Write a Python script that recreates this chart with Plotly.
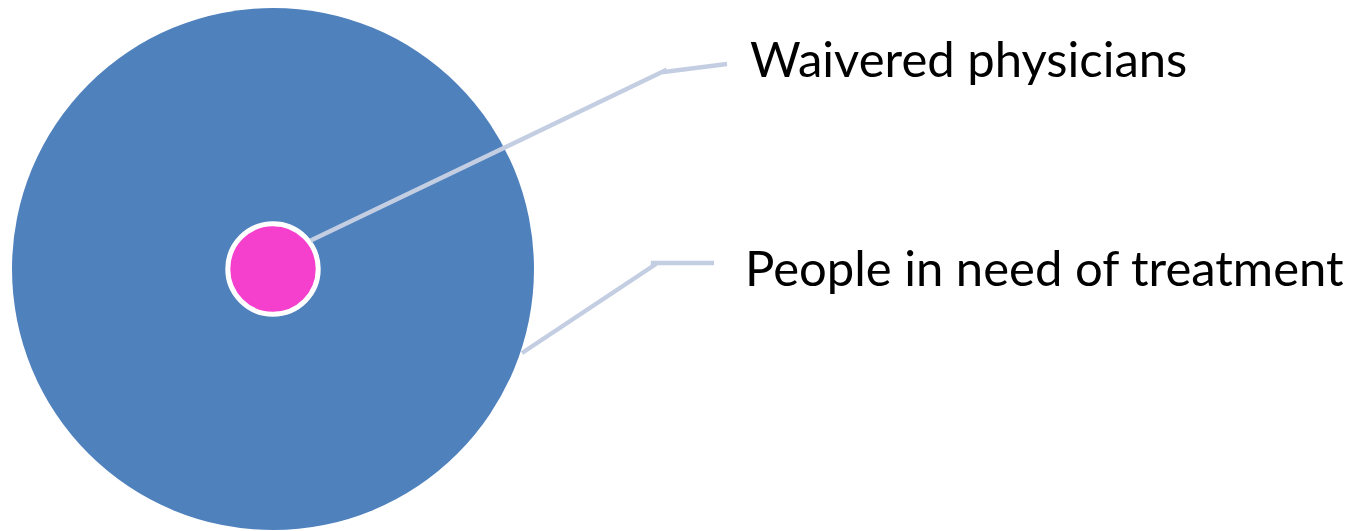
import plotly.graph_objects as go
import math

# Data
categories = ["People in need of treatment", "Waivered physicians"]
values = [100, 3]  # relative sizes (area)
colors = ["#4f81bd", "#f540cd"]

W, H = 1365, 531
cx, cy = 273, 269
R_big = 261

radii = [R_big * math.sqrt(v / max(values)) for v in values]

fig = go.Figure()

shapes = []
for i, (cat, r, col) in enumerate(zip(categories, radii, colors)):
    shapes.append(dict(type="circle", xref="x", yref="y",
                       x0=cx - r, x1=cx + r, y0=cy - r, y1=cy + r,
                       fillcolor=col,
                       line=dict(color="white", width=5 if i == 1 else 0),
                       layer="below"))

# leader lines
line_col = "#c4cee2"
r_small = radii[1]
ang1 = math.radians(-37)
p1 = (cx + (r_small + 2) * math.cos(ang1), cy + (r_small + 2) * math.sin(ang1))
lines = [
    ([p1[0], 664, 664, 727], [p1[1], 71, 72, 64]),
    ([522, 656, 651, 714], [353, 264, 263, 263]),
]
for xs, ys in lines:
    fig.add_trace(go.Scatter(x=xs, y=ys, mode="lines",
                             line=dict(color=line_col, width=4.5),
                             hoverinfo="skip", showlegend=False))

annotations = [
    dict(x=748, y=58, text=categories[1], xref="x", yref="y",
         xanchor="left", yanchor="middle", showarrow=False,
         font=dict(family="Lato", size=49, color="black")),
    dict(x=743, y=267, text=categories[0], xref="x", yref="y",
         xanchor="left", yanchor="middle", showarrow=False,
         font=dict(family="Lato", size=49, color="black")),
]

fig.update_layout(
    width=W, height=H,
    margin=dict(l=0, r=0, t=0, b=0),
    paper_bgcolor="white", plot_bgcolor="white",
    xaxis=dict(range=[0, W], visible=False, fixedrange=True),
    yaxis=dict(range=[H, 0], visible=False, fixedrange=True),
    shapes=shapes, annotations=annotations,
    showlegend=False,
)

fig.write_html("out.html")
